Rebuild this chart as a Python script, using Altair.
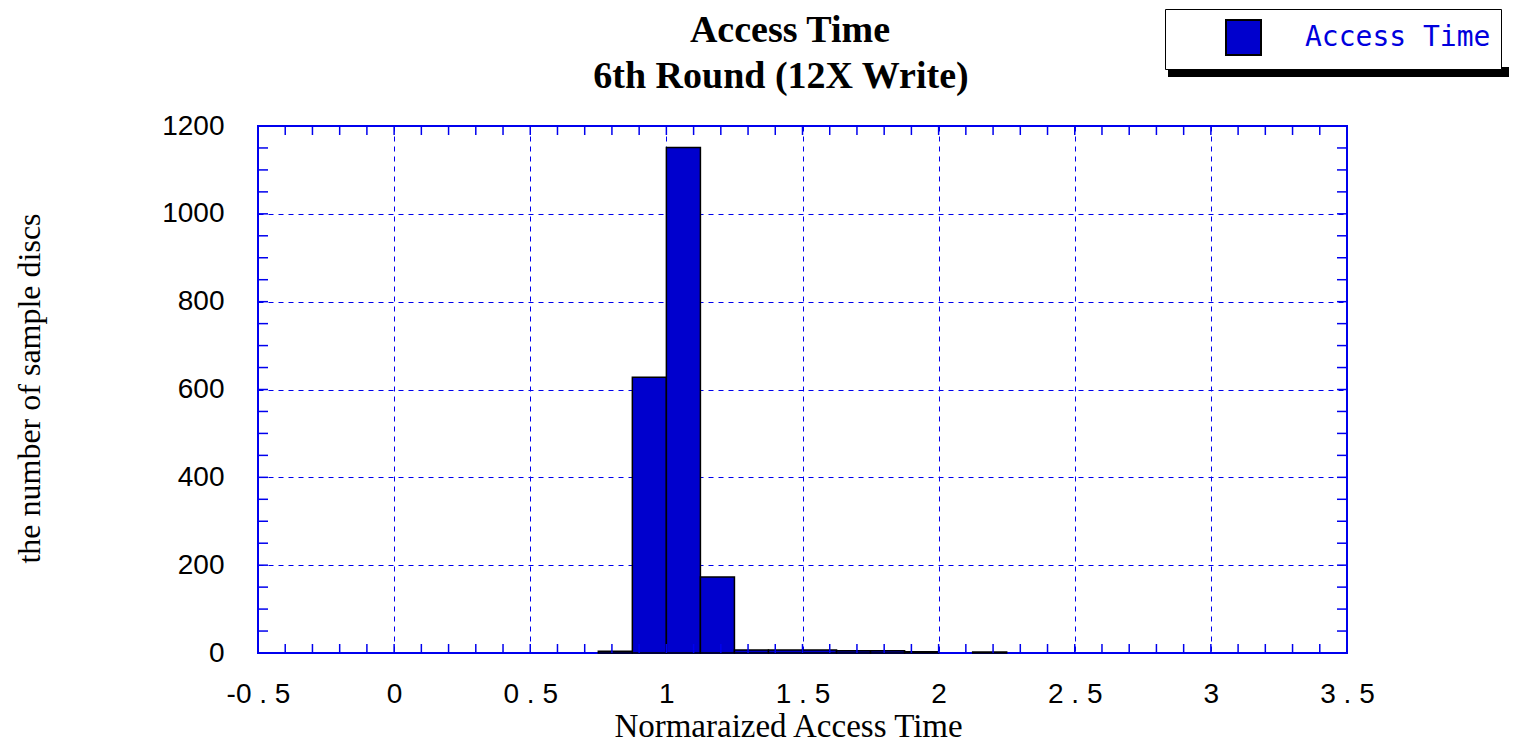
import altair as alt
import pandas as pd

# ---- data ----
bin_start = [0.75, 0.875, 1.0, 1.125, 1.25, 1.375, 1.5, 1.625, 1.75, 1.875, 2.125]
bin_width = 0.125
counts = [4, 628, 1151, 173, 7, 7, 7, 5, 5, 3, 2]
series_name = "Access Time"
title_lines = ["Access Time", "6th Round (12X Write)"]

x_major = [-0.5, 0, 0.5, 1, 1.5, 2, 2.5, 3, 3.5]
y_major = [0, 200, 400, 600, 800, 1000, 1200]
x_minor = [round(-0.5 + 0.1 * i, 1) for i in range(41)]
y_minor = [50 * i for i in range(25)]

W, H = 1089, 527
BLUE = "#0000EE"
BAR = "#0000CD"

df = pd.DataFrame({
    "start": bin_start,
    "end": [s + bin_width for s in bin_start],
    "count": counts,
    "series": [series_name] * len(bin_start),
})

x_scale = alt.Scale(domain=[-0.5, 3.5], nice=False, zero=False)
y_scale = alt.Scale(domain=[0, 1200], nice=False, zero=True)

x_axis = alt.Axis(
    values=x_major, grid=True, gridColor=BLUE, gridDash=[5, 5], gridWidth=1,
    domain=False, ticks=False,
    labelExpr="replace(toString(datum.value), '.', ' . ')",
    labelFont="Liberation Sans",
    labelFontSize=28, labelColor="black", labelPadding=27, labelFlush=False,
    labelOverlap=False, labelBaseline="top",
    title="Normaraized Access Time", titleFont="Liberation Serif",
    titleFontSize=33, titleFontWeight="normal", titleColor="black",
    titleX=530, titleY=83, titleBaseline="alphabetic", titleAlign="center")
y_axis = alt.Axis(
    values=y_major, grid=True, gridColor=BLUE, gridDash=[5, 5], gridWidth=1,
    domain=False, ticks=False, format="d", labelFont="Liberation Sans",
    labelFontSize=28, labelColor="black", labelPadding=34, labelFlush=False,
    labelOverlap=False,
    title="the number of sample discs", titleFont="Liberation Serif",
    titleFontSize=32, titleFontWeight="normal", titleColor="black",
    titleX=-219, titleY=262, titleAngle=270, titleBaseline="alphabetic",
    titleAlign="center")

bars = alt.Chart(df).mark_bar(stroke="black", strokeWidth=1.5, opacity=1).encode(
    x=alt.X("start:Q", scale=x_scale, axis=x_axis),
    x2="end:Q",
    y=alt.Y("count:Q", scale=y_scale, axis=y_axis),
    y2=alt.datum(0),
    color=alt.Color("series:N", scale=alt.Scale(range=[BAR]), legend=alt.Legend(
        title=None, orient="none", legendX=907, legendY=-117, padding=10,
        strokeColor="black", fillColor="white",
        symbolType="square", symbolSize=1225, symbolStrokeColor="black",
        symbolStrokeWidth=2, symbolOpacity=1, symbolOffset=50,
        labelFont="DejaVu Sans Mono", labelFontSize=28, labelColor="#0000DD",
        labelOffset=43, labelLimit=400)),
)

xt = pd.DataFrame({"v": x_minor})
yt = pd.DataFrame({"v": y_minor})

x_bottom = alt.Chart(xt).mark_rule(color=BLUE, strokeWidth=1.5).encode(
    x=alt.X("v:Q", scale=x_scale, axis=x_axis), y=alt.value(H), y2=alt.value(H - 9))
x_top = alt.Chart(xt).mark_rule(color=BLUE, strokeWidth=1.5).encode(
    x=alt.X("v:Q", scale=x_scale, axis=x_axis), y=alt.value(0), y2=alt.value(9))
y_left = alt.Chart(yt).mark_rule(color=BLUE, strokeWidth=1.5).encode(
    y=alt.Y("v:Q", scale=y_scale, axis=y_axis), x=alt.value(0), x2=alt.value(10))
y_right = alt.Chart(yt).mark_rule(color=BLUE, strokeWidth=1.5).encode(
    y=alt.Y("v:Q", scale=y_scale, axis=y_axis), x=alt.value(W), x2=alt.value(W - 10))

one = pd.DataFrame({"a": [0]})
shadow = alt.Chart(one).mark_rect(color="black").encode(
    x=alt.value(910), x2=alt.value(1300), y=alt.value(-59), y2=alt.value(-49))

title1 = alt.Chart(one).mark_text(
    font="Liberation Serif", fontSize=38, fontWeight="bold", color="black",
    align="center", baseline="alphabetic").encode(
    x=alt.value(532), y=alt.value(-84), text=alt.value(title_lines[0]))
title2 = alt.Chart(one).mark_text(
    font="Liberation Serif", fontSize=38, fontWeight="bold", color="black",
    align="center", baseline="alphabetic").encode(
    x=alt.value(523), y=alt.value(-38), text=alt.value(title_lines[1]))

chart = alt.layer(shadow, bars, x_bottom, x_top, y_left, y_right, title1, title2).properties(
    width=W, height=H,
    padding={"left": 250, "top": 118, "right": 162, "bottom": 90},
    autosize=alt.AutoSizeParams(type="none"),
).configure_view(stroke=BLUE, strokeWidth=2)

chart.save("out.html", embed_options={"renderer": "svg", "actions": False})
